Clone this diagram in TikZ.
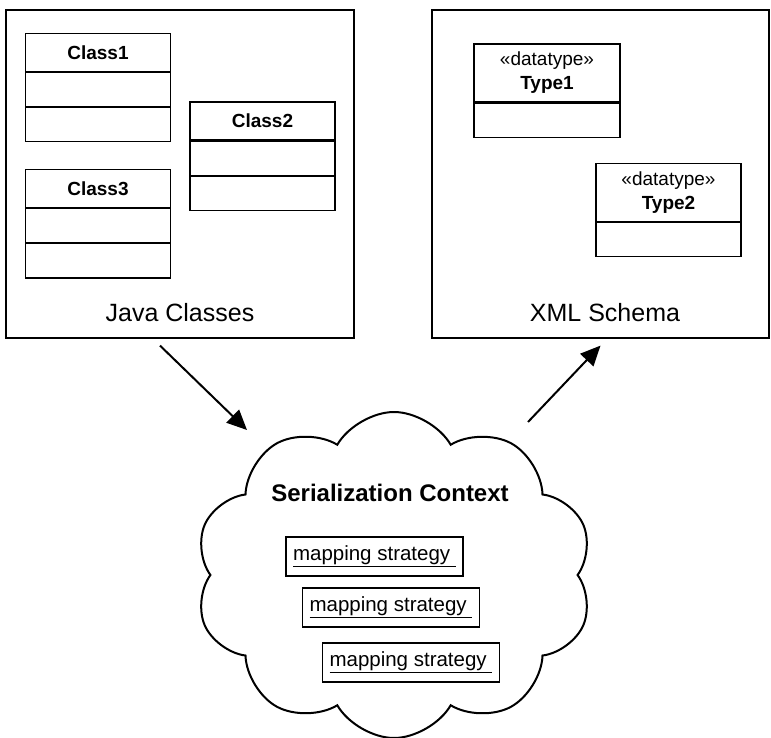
\documentclass[tikz,border=0pt]{standalone}
\usepackage{fontspec}
\setmainfont{Liberation Sans}
\usetikzlibrary{positioning,shapes.symbols,arrows.meta}

\tikzset{
  frame/.style={draw, line width=1.2pt, minimum width=348pt, minimum height=328pt},
  head/.style={draw, line width=1.2pt, minimum width=145pt, minimum height=38pt, font=\fontsize{19}{22}\selectfont\bfseries},
  dtype/.style={draw, line width=1.2pt, minimum width=146pt, minimum height=58pt, align=center, font=\fontsize{19}{24}\selectfont},
  comp/.style={draw, line width=1.2pt, minimum width=145pt, minimum height=34pt},
  mapbox/.style={draw, line width=1.1pt, minimum width=177pt, minimum height=39pt, font=\fontsize{20.5}{22}\selectfont},
  flow/.style={line width=2pt, -{Triangle[length=20pt,width=18pt]}}
}

\begin{document}
\begin{tikzpicture}[x=1pt,y=-1pt]
\useasboundingbox (0,0) rectangle (771,738);

% the two frames
\node[frame] (java) at (180,174) {};
\node[frame, minimum width=337pt] (xml) at (600.5,174) {};
\node[font=\fontsize{25}{28}\selectfont] (javalbl) at (180,313) {Java Classes};
\node[font=\fontsize{25}{28}\selectfont] (xmllbl) at (605,313) {XML Schema};

% java classes
\node[head] (c1) at (98,52.5) {Class1};
\node[comp, below=0pt of c1] (c1a) {};
\node[comp, below=0pt of c1a] (c1b) {};
\node[head] (c2) at (262.5,121) {Class2};
\node[comp, below=0pt of c2] (c2a) {};
\node[comp, below=0pt of c2a] (c2b) {};
\node[head] (c3) at (98,188.5) {Class3};
\node[comp, below=0pt of c3] (c3a) {};
\node[comp, below=0pt of c3a] (c3b) {};

% schema types
\node[dtype] (t1) at (547,73) {«datatype»\\\textbf{Type1}};
\node[comp, minimum width=146pt, below=0pt of t1] (t1a) {};
\node[dtype, minimum width=145pt] (t2) at (668.5,192.5) {«datatype»\\\textbf{Type2}};
\node[comp, below=0pt of t2] (t2a) {};

% the context
\node[cloud, draw, line width=2pt, cloud puffs=10, cloud puff arc=120, aspect=1.25,
      minimum width=398pt, minimum height=326pt] (ctx) at (394,575) {};
\node[font=\fontsize{24}{26}\selectfont\bfseries] (ctxlbl) at (390,493) {Serialization Context};
\node[mapbox] (m1) at (374.5,556.5) {\underline{mapping strategy\ }};
\node[mapbox] (m2) at (391,607.5) {\underline{mapping strategy\ }};
\node[mapbox] (m3) at (411,662.5) {\underline{mapping strategy\ }};

\coordinate (in) at (247,430);
\coordinate (out) at (528,422);
\draw[flow] ([xshift=-20pt,yshift=-7pt]java.south) -- (in);
\draw[flow] (out) -- ([yshift=-7pt]xml.south);
\end{tikzpicture}
\end{document}
